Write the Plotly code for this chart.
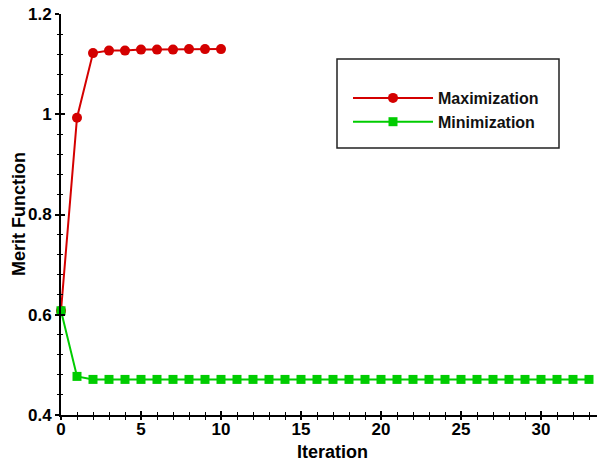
import plotly.graph_objects as go

max_iter = list(range(0, 11))
max_vals = [0.608, 0.993, 1.122, 1.127, 1.127, 1.129, 1.129, 1.129, 1.130, 1.130, 1.130]
min_iter = list(range(0, 34))
min_vals = [0.608, 0.477] + [0.471] * 32

FONT = "Liberation Sans"
L, T, B = 61, 14, 46
PH = 461 - T - B
PW = 597 - L

fig = go.Figure()
fig.add_trace(go.Scatter(x=max_iter, y=max_vals, mode="lines+markers", name="<b>Maximization</b>",
                         line=dict(color="#d40000", width=2),
                         marker=dict(symbol="circle", size=10, color="#d40000"), cliponaxis=False))
fig.add_trace(go.Scatter(x=min_iter, y=min_vals, mode="lines+markers", name="<b>Minimization</b>",
                         line=dict(color="#00cc00", width=2),
                         marker=dict(symbol="square", size=9, color="#00cc00"), cliponaxis=False))
# invisible trace for overlaid tick axes
fig.add_trace(go.Scatter(x=[0], y=[0.4], xaxis="x2", yaxis="y2", mode="markers",
                         marker=dict(opacity=0), showlegend=False, hoverinfo="skip"))

tickfont = dict(family=FONT, size=17, color="black")
fig.update_layout(
    width=597, height=461, margin=dict(l=L, r=0, t=T, b=B),
    paper_bgcolor="white", plot_bgcolor="white",
    font=dict(family=FONT, color="black"),
    xaxis=dict(range=[0, 33.5], tickvals=[0, 5, 10, 15, 20, 25, 30],
               ticktext=["<b>%d</b>" % v for v in [0, 5, 10, 15, 20, 25, 30]],
               tickfont=tickfont, showgrid=False, zeroline=False,
               showline=True, linecolor="black", linewidth=2,
               ticks="outside", ticklen=3, tickwidth=2, tickcolor="black", ticklabelstandoff=-5,
               minor=dict(dtick=1, ticks="outside", ticklen=3, tickwidth=1, tickcolor="black")),
    yaxis=dict(range=[0.4, 1.2], tickvals=[0.4, 0.6, 0.8, 1.0, 1.2],
               ticktext=["<b>0.4</b>", "<b>0.6</b>", "<b>0.8</b>", "<b>1</b>", "<b>1.2</b>"],
               tickfont=tickfont, showgrid=False, zeroline=False,
               showline=True, linecolor="black", linewidth=2,
               ticks="outside", ticklen=4, tickwidth=2, tickcolor="black",
               minor=dict(dtick=0.04, tick0=0.4, ticks="outside", ticklen=2, tickwidth=1, tickcolor="black")),
    xaxis2=dict(overlaying="x", anchor="y2", range=[0, 33.5], showticklabels=False, showgrid=False,
                zeroline=False, showline=False, tickvals=[0, 5, 10, 15, 20, 25, 30],
                ticks="inside", ticklen=4, tickwidth=2, tickcolor="black",
                minor=dict(dtick=1, ticks="inside", ticklen=3, tickwidth=1, tickcolor="black")),
    yaxis2=dict(overlaying="y", anchor="x2", range=[0.4, 1.2], showticklabels=False, showgrid=False,
                zeroline=False, showline=False, tickvals=[0.4, 0.6, 0.8, 1.0, 1.2],
                ticks="inside", ticklen=4, tickwidth=2, tickcolor="black",
                minor=dict(dtick=0.04, tick0=0.4, ticks="inside", ticklen=2, tickwidth=1, tickcolor="black")),
    legend=dict(x=(348 - L) / PW, y=(415 - 81) / PH, xanchor="left", yanchor="top",
                bgcolor="rgba(0,0,0,0)", borderwidth=0,
                font=dict(family=FONT, size=16, color="#111"), itemwidth=80, tracegroupgap=0),
    shapes=[dict(type="rect", xref="paper", yref="paper",
                 x0=(337 - L) / PW, x1=(559 - L) / PW,
                 y0=(415 - 148) / PH, y1=(415 - 59) / PH,
                 line=dict(color="#222", width=1.5), fillcolor="rgba(0,0,0,0)")],
    annotations=[
        dict(text="<b>Iteration</b>", xref="paper", yref="paper",
             x=(332 - L) / PW, y=(415 - 452) / PH, xanchor="center", yanchor="middle",
             showarrow=False, font=dict(family=FONT, size=18, color="black")),
        dict(text="<b>Merit Function</b>", xref="paper", yref="paper", textangle=-90,
             x=(19 - L) / PW, y=(415 - 214) / PH, xanchor="center", yanchor="middle",
             showarrow=False, font=dict(family=FONT, size=18, color="black")),
    ],
    showlegend=True,
)
fig.write_html("out.html")
